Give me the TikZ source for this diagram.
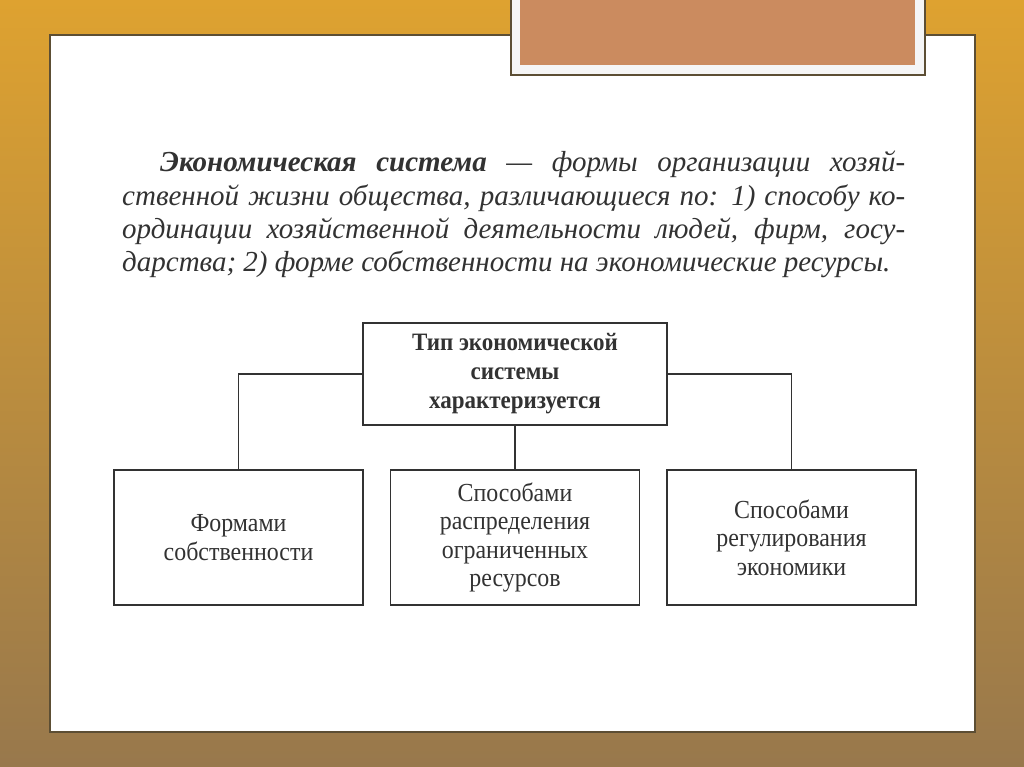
\documentclass[tikz,border=0pt]{standalone}
\usepackage{fontspec}
\setmainfont{Liberation Serif}
\newfontfamily\condfont[FakeStretch=0.92]{Liberation Serif}
\usetikzlibrary{positioning}
\definecolor{goldtop}{RGB}{222,162,48}
\definecolor{brownbot}{RGB}{152,120,76}
\definecolor{slideedge}{RGB}{92,78,52}
\definecolor{titlefill}{RGB}{203,139,95}
\definecolor{inkgray}{RGB}{50,50,50}
\tikzstyle{deftext} = [anchor=west, inner sep=0pt, font=\fontsize{29}{33}\selectfont\itshape, text=inkgray]
\tikzstyle{headbox} = [draw=inkgray, line width=1.6pt, minimum width=304pt, minimum height=102pt, align=center, font=\condfont\fontsize{25}{29}\selectfont\bfseries, text=inkgray]
\tikzstyle{leafbox} = [draw=inkgray, line width=1.6pt, minimum width=249pt, minimum height=135pt, align=center, font=\condfont\fontsize{26}{28.5}\selectfont, text=inkgray]
\tikzstyle{link} = [draw=inkgray, line width=1.6pt]

\begin{document}
\begin{tikzpicture}[x=1pt,y=-1pt]
    \useasboundingbox (0,0) rectangle (1024,767);
    % background and slide
    \shade[top color=goldtop, bottom color=brownbot] (0,0) rectangle (1024,767);
    \draw[fill=white, draw=slideedge, line width=1.5pt] (50,35) rectangle (975,732);
    \draw[fill=white!96!black, draw=slideedge, line width=1.5pt] (511,-3) rectangle (925,75);
    \fill[titlefill] (520,-3) rectangle (915,65);

    % definition
    \node[deftext] (l1) at (160,164) {\makebox[745pt][s]{\textbf{Экономическая система} — формы организации хозяй-}};
    \node[deftext] (l2) at (122,198) {\makebox[783pt][s]{ственной жизни общества, различающиеся по: 1) способу ко-}};
    \node[deftext] (l3) at (122,231) {\makebox[783pt][s]{ординации хозяйственной деятельности людей, фирм, госу-}};
    \node[deftext] (l4) at (122,264) {дарства; 2) форме собственности на экономические ресурсы.};

    % scheme
    \node[headbox] (type) at (515,374) {Тип экономической\\системы\\характеризуется};
    \node[leafbox] (forms) at (238.5,537.5) {Формами\\собственности};
    \node[leafbox] (distr) at (515,537.5) {Способами\\распределения\\ограниченных\\ресурсов};
    \node[leafbox] (regul) at (791.5,537.5) {Способами\\регулирования\\экономики};

    \draw[link] (type.west) -| (forms.north);
    \draw[link] (type.south) -- (distr.north);
    \draw[link] (type.east) -| (regul.north);
\end{tikzpicture}
\end{document}
